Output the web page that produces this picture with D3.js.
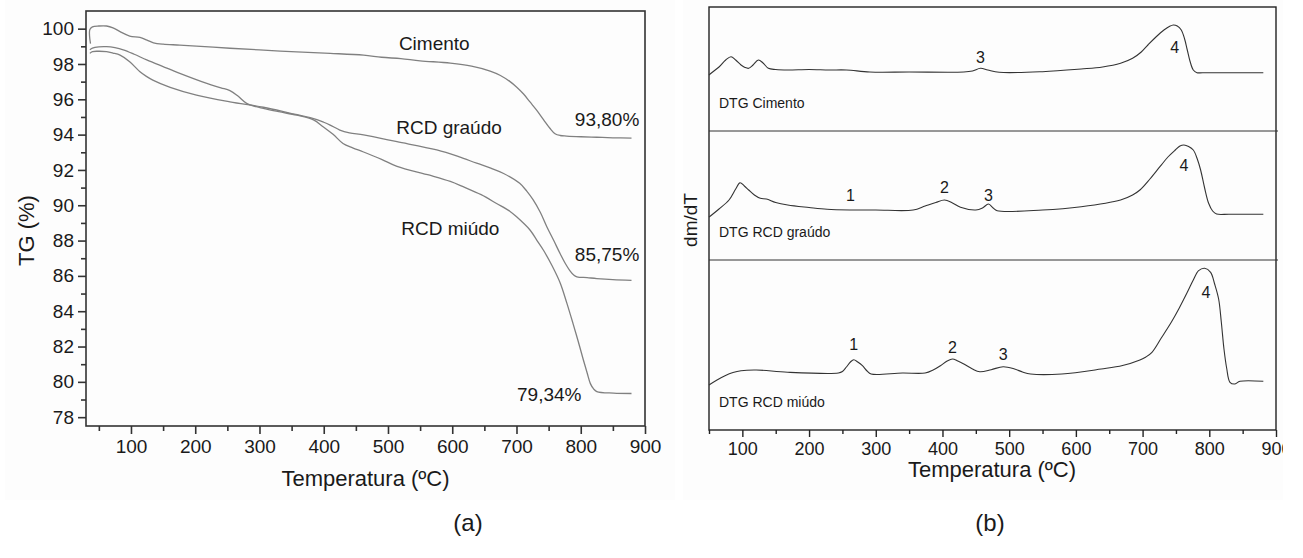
<!DOCTYPE html>
<html>
<head>
<meta charset="utf-8">
<script src="https://cdn.jsdelivr.net/npm/d3@7"></script>
<style>
  body { margin: 0; background: #fff; }
  svg { display: block; }
  text { font-family: "Liberation Sans", Arial, sans-serif; fill: #1a1a1a; }
</style>
</head>
<body>
<svg id="fig" width="1303" height="558"></svg>
<script>
// ---------- TG curves: [temperature (ºC), residual mass (%)] ----------
const tgCimento = [[37,99.15],[35.5,99.6],[36,99.95],[40,100.1],[50,100.15],[62,100.15],[72,100.05],[83,99.83],[98,99.58],[114,99.5],[125,99.35],[135,99.2],[150,99.12],[176,99.07],[215,98.98],[254,98.89],[300,98.8],[358,98.68],[410,98.6],[462,98.5],[490,98.38],[520,98.3],[550,98.18],[597,98.05],[630,97.88],[659,97.6],[675,97.35],[690,97.0],[700,96.7],[711,96.3],[721,95.85],[731,95.4],[742,94.85],[752,94.36],[760,94.05],[768,93.95],[778,93.92],[800,93.88],[825,93.85],[850,93.82],[879,93.8]];
const tgGraudo = [[36,98.6],[40,98.7],[50,98.72],[62,98.7],[72,98.62],[83,98.5],[98,98.13],[114,97.56],[124,97.3],[134,97.09],[161,96.68],[202,96.24],[254,95.86],[306,95.55],[347,95.22],[383,94.92],[400,94.7],[410,94.54],[425,94.26],[440,94.1],[462,93.98],[514,93.6],[576,93.13],[610,92.75],[638,92.38],[660,92.1],[680,91.8],[705,91.24],[716,90.8],[726,90.3],[737,89.6],[747,88.8],[758,88.0],[768,87.25],[776,86.7],[783,86.3],[789,86.05],[794,85.95],[810,85.9],[825,85.85],[850,85.79],[879,85.75]];
const tgMiudo = [[36,98.8],[40,98.9],[50,98.97],[62,98.98],[75,98.92],[88,98.8],[105,98.55],[124.5,98.23],[150,97.85],[176,97.47],[218,96.9],[240,96.65],[254,96.49],[266,96.2],[280,95.77],[295,95.58],[306,95.49],[330,95.3],[358,95.1],[384,94.83],[399,94.45],[415,94.0],[430,93.5],[445,93.25],[461,93.03],[490,92.6],[514,92.2],[565,91.7],[597,91.35],[617,91.05],[645,90.6],[669,90.1],[690,89.65],[700,89.35],[721,88.6],[732,88.0],[742,87.45],[755,86.6],[768,85.6],[778,84.5],[788,83.3],[796,82.3],[804,81.25],[810,80.5],[815,79.9],[820,79.6],[825,79.45],[851,79.36],[879,79.34]];

const tgNames = ["Cimento", "RCD graúdo", "RCD miúdo"];
const tgNamePos = [[572, 99.16], [595, 94.43], [597, 88.66]];      // [ºC, %]
const tgFinalLabels = ["93,80%", "85,75%", "79,34%"];
const tgFinalPos = [[841, 94.88], [841, 87.21], [751, 79.26]];     // [ºC, %]

const tgTicksY = [78, 80, 82, 84, 86, 88, 90, 92, 94, 96, 98, 100];
const tgMinorY = [79, 81, 83, 85, 87, 89, 91, 93, 95, 97, 99];
const tempTicks = [100, 200, 300, 400, 500, 600, 700, 800, 900];
const tempMinor = [50, 150, 250, 350, 450, 550, 650, 750, 850];

// ---------- DTG curves: [temperature (ºC), dm/dT (arbitrary units)] ----------
const dtgCimento = [[50,56],[54,58.3],[65,64],[75,71],[83,74.3],[90,71],[98,66],[104,63.5],[109.5,62.7],[116,66],[124,71],[131,68],[139,62.7],[150,61.5],[168,61],[200,61.5],[230,61],[256,61],[291,59],[350,59],[432,59],[445,60],[457,62.7],[468,61],[485,58.7],[550,59.3],[608,62],[640,64],[667,67.7],[685,72.7],[698,79],[708,86],[720,94],[732,101],[740,104.5],[746,106],[752,105],[758,101],[763,92],[767,81],[771,70],[776,61],[781.5,58.3],[790,58.3],[881,58.3]];
const dtgGraudo = [[50,43],[54,45],[65,51],[80,60],[90,71],[96.5,77.3],[103,74],[109.5,70],[118,65],[127,61.7],[136,61],[150,57.5],[168,55],[200,52.5],[227,50.7],[262,50],[300,50],[356,50],[374,54],[390,57.5],[403,60],[415,57],[427,52.7],[450,50],[460,52],[469,56],[476,52],[482,49.3],[550,50],[608,53.3],[667,60],[685,65],[696,70],[711,81],[726,93.3],[738,103],[749,110],[756,114],[762,115],[769,113.5],[776,110],[782,101],[787,90],[793,72],[799,56.7],[805,49],[811,46],[830,45.8],[881,45.7]];
const dtgMiudo = [[50,45],[62,50],[74,54.3],[86,57.5],[98,59.3],[121,60],[168,57.7],[244,57],[250,58.5],[256,63],[262,68],[267,70.3],[273,68],[280,64.3],[287,59],[293,56],[340,57],[374,57],[386,60],[397,64.3],[407,69],[415,71],[423,69],[432,66],[445,61],[456,58.3],[473,60.3],[491,63.3],[508,61],[520,58],[532,56],[579,56],[638,61],[670,64.5],[696,70],[705,73],[714,77.7],[728,92],[743,107.7],[755,122],[767,137.7],[776,150],[784,159.3],[793,161.7],[802,157.7],[808,146],[814,131],[818,108],[822,81],[826,62],[831,47.7],[838,46],[846,48.7],[881,48.7]];

const dtgNames = ["DTG Cimento", "DTG RCD graúdo", "DTG RCD miúdo"];
// peak numbers: [label, ºC, dm/dT position] per band
const dtgPeaks = [
  [["3", 457, 74], ["4", 748, 84]],
  [["1", 262, 65], ["2", 403, 73], ["3", 469, 65], ["4", 762, 95]],
  [["1", 267, 86], ["2", 415, 83], ["3", 491, 76], ["4", 795, 138]]
];

// ---------- layout ----------
const svg = d3.select("#fig");
const font = '"Liberation Sans", Arial, sans-serif';

svg.append("rect").attr("x", 5).attr("y", 0).attr("width", 670).attr("height", 500).attr("fill", "#fdfdfd");
svg.append("rect").attr("x", 683).attr("y", 0).attr("width", 600).attr("height", 500).attr("fill", "#fdfdfd");

// ======================= (a) TG =======================
const A = { left: 86, right: 645, top: 11, bottom: 426 };
const xA = d3.scaleLinear().domain([30, 900]).range([A.left, A.right]);
const yA = d3.scaleLinear().domain([77.5, 101]).range([A.bottom, A.top]);

const gA = svg.append("g");

// major and minor ticks, y
gA.append("g").attr("transform", `translate(${A.left},0)`)
  .call(d3.axisLeft(yA).tickValues(tgTicksY).tickSize(8).tickPadding(4).tickFormat(d3.format("d")))
  .call(g => g.select(".domain").remove())
  .call(g => g.selectAll("line").attr("stroke", "#333").attr("stroke-width", 1.6))
  .call(g => g.selectAll("text").attr("font-size", 19).attr("font-family", font).attr("fill", "#1a1a1a"));
gA.append("g").attr("transform", `translate(${A.left},0)`)
  .call(d3.axisLeft(yA).tickValues(tgMinorY).tickSize(5).tickFormat(""))
  .call(g => g.select(".domain").remove())
  .call(g => g.selectAll("line").attr("stroke", "#333").attr("stroke-width", 1.6));

// major and minor ticks, x
gA.append("g").attr("transform", `translate(0,${A.bottom})`)
  .call(d3.axisBottom(xA).tickValues(tempTicks).tickSize(8).tickPadding(6).tickFormat(d3.format("d")))
  .call(g => g.select(".domain").remove())
  .call(g => g.selectAll("line").attr("stroke", "#333").attr("stroke-width", 1.6))
  .call(g => g.selectAll("text").attr("font-size", 19).attr("font-family", font).attr("fill", "#1a1a1a"));
gA.append("g").attr("transform", `translate(0,${A.bottom})`)
  .call(d3.axisBottom(xA).tickValues(tempMinor).tickSize(5).tickFormat(""))
  .call(g => g.select(".domain").remove())
  .call(g => g.selectAll("line").attr("stroke", "#333").attr("stroke-width", 1.6));

// frame
gA.append("rect").attr("x", A.left).attr("y", A.top)
  .attr("width", A.right - A.left).attr("height", A.bottom - A.top)
  .attr("fill", "none").attr("stroke", "#333").attr("stroke-width", 1.6);

// curves
const lineA = d3.line().x(d => xA(d[0])).y(d => yA(d[1])).curve(d3.curveCatmullRom.alpha(0.5));
[tgCimento, tgGraudo, tgMiudo].forEach(s => {
  gA.append("path").datum(s).attr("d", lineA)
    .attr("fill", "none").attr("stroke", "#808080").attr("stroke-width", 1.3);
});

// curve names and final residues
tgNames.forEach((n, i) => {
  gA.append("text").attr("x", xA(tgNamePos[i][0])).attr("y", yA(tgNamePos[i][1]))
    .attr("text-anchor", "middle").attr("dominant-baseline", "central")
    .attr("font-size", 19).text(n);
});
tgFinalLabels.forEach((n, i) => {
  gA.append("text").attr("x", xA(tgFinalPos[i][0])).attr("y", yA(tgFinalPos[i][1]))
    .attr("text-anchor", "middle").attr("dominant-baseline", "central")
    .attr("font-size", 19).text(n);
});

// axis titles
gA.append("text").attr("transform", `translate(26,${(A.top + A.bottom) / 2 + 12}) rotate(-90)`)
  .attr("text-anchor", "middle").attr("dominant-baseline", "central")
  .attr("font-size", 22).text("TG (%)");
gA.append("text").attr("x", (A.left + A.right) / 2).attr("y", 478)
  .attr("text-anchor", "middle").attr("dominant-baseline", "central")
  .attr("font-size", 22).text("Temperatura (ºC)");
svg.append("text").attr("x", 468).attr("y", 522)
  .attr("text-anchor", "middle").attr("dominant-baseline", "central")
  .attr("font-size", 24).text("(a)");

// ======================= (b) DTG =======================
const B = { left: 709, right: 1276, top: 7, bottom: 430 };
const bands = [[7, 131], [131, 260], [260, 430]];
const xB = d3.scaleLinear().domain([50, 900]).range([B.left, B.right]);
const yBands = bands.map(([t, b]) => d3.scaleLinear().domain([0, b - t]).range([b, t]));

const gB = svg.append("g");

svg.append("defs").append("clipPath").attr("id", "clipB")
  .append("rect").attr("x", 683).attr("y", 0).attr("width", 600).attr("height", 558);

gB.append("g").attr("transform", `translate(0,${B.bottom})`).attr("clip-path", "url(#clipB)")
  .call(d3.axisBottom(xB).tickValues(tempTicks).tickSize(7).tickPadding(5).tickFormat(d3.format("d")))
  .call(g => g.select(".domain").remove())
  .call(g => g.selectAll("line").attr("stroke", "#222").attr("stroke-width", 1.4))
  .call(g => g.selectAll("text").attr("font-size", 18).attr("font-family", font).attr("fill", "#1a1a1a"));
gB.append("g").attr("transform", `translate(0,${B.bottom})`)
  .call(d3.axisBottom(xB).tickValues(tempMinor).tickSize(4).tickFormat(""))
  .call(g => g.select(".domain").remove())
  .call(g => g.selectAll("line").attr("stroke", "#222").attr("stroke-width", 1.4));

gB.append("rect").attr("x", B.left).attr("y", B.top)
  .attr("width", B.right - B.left).attr("height", B.bottom - B.top)
  .attr("fill", "none").attr("stroke", "#222").attr("stroke-width", 1.4);
[bands[0][1], bands[1][1]].forEach(y => {
  gB.append("line").attr("x1", B.left).attr("x2", B.right + 2).attr("y1", y).attr("y2", y)
    .attr("stroke", "#333").attr("stroke-width", 1);
});

const dtgSeries = [dtgCimento, dtgGraudo, dtgMiudo];
dtgSeries.forEach((s, i) => {
  const y = yBands[i];
  const line = d3.line().x(d => xB(d[0])).y(d => y(d[1])).curve(d3.curveCatmullRom.alpha(0.5));
  gB.append("path").datum(s).attr("d", line)
    .attr("fill", "none").attr("stroke", "#333").attr("stroke-width", 1.1);
  gB.append("text").attr("x", B.left + 10).attr("y", bands[i][1] - 28)
    .attr("dominant-baseline", "central").attr("font-size", 14).text(dtgNames[i]);
  dtgPeaks[i].forEach(([lab, t, v]) => {
    gB.append("text").attr("x", xB(t)).attr("y", y(v))
      .attr("text-anchor", "middle").attr("dominant-baseline", "central")
      .attr("font-size", 16).text(lab);
  });
});

gB.append("text").attr("transform", `translate(690,${220}) rotate(-90)`)
  .attr("text-anchor", "middle").attr("dominant-baseline", "central")
  .attr("font-size", 19).text("dm/dT");
gB.append("text").attr("x", 992).attr("y", 469)
  .attr("text-anchor", "middle").attr("dominant-baseline", "central")
  .attr("font-size", 22).text("Temperatura (ºC)");
svg.append("text").attr("x", 990).attr("y", 522)
  .attr("text-anchor", "middle").attr("dominant-baseline", "central")
  .attr("font-size", 24).text("(b)");
</script>
</body>
</html>
